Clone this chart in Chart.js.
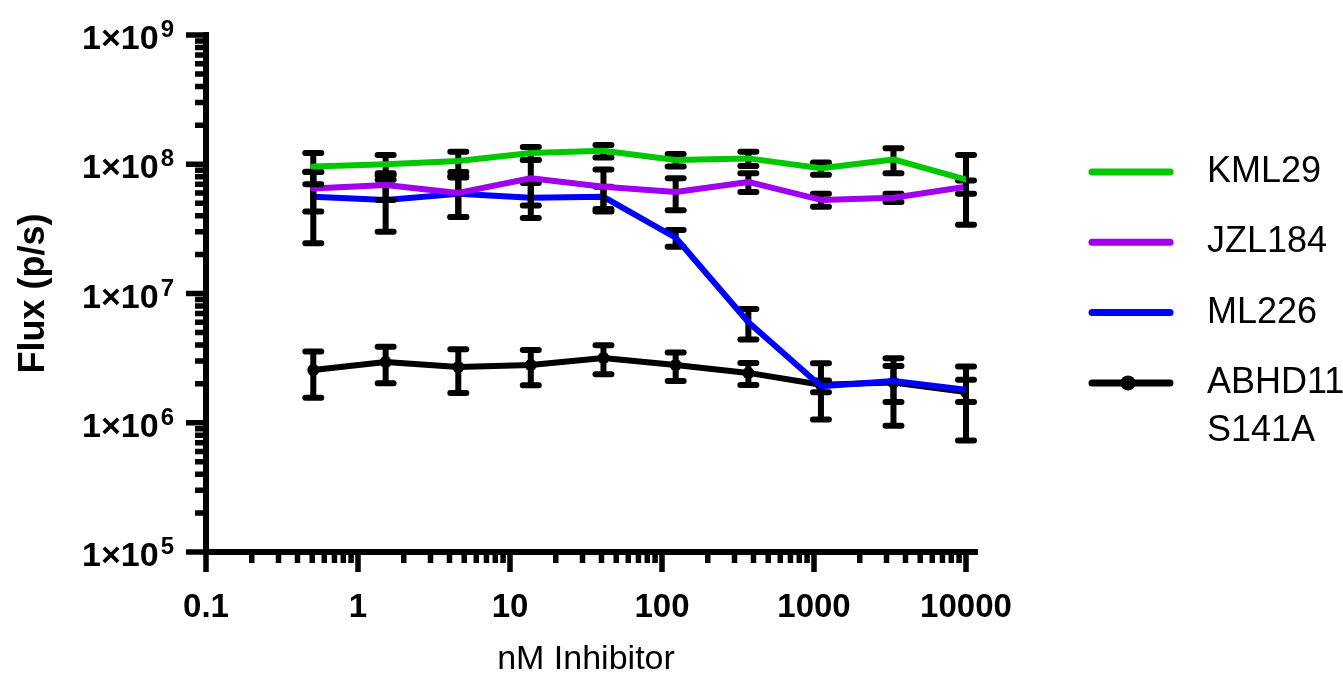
<!DOCTYPE html>
<html lang="en">
<head>
    <meta charset="UTF-8">
    <title>Flux vs nM Inhibitor</title>
    <style>
        html, body { margin: 0; padding: 0; background: #fff; }
        #chart-container { width: 1343px; height: 683px; }
    </style>
</head>
<body>
    <div id="chart-container">
        <canvas id="myChart" width="1343" height="683"></canvas>
    </div>

    <script src="https://cdn.jsdelivr.net/npm/chart.js@4"></script>
    <script>
        // Inhibitor concentration (nM), 3-fold dilution series
        var doses = [0.508, 1.52, 4.57, 13.7, 41.2, 123, 370, 1111, 3333, 10000];

        // Mean flux (p/s)
        var kml29  = [9.6e7, 1.0e8, 1.06e8, 1.22e8, 1.27e8, 1.08e8, 1.11e8, 9.3e7, 1.09e8, 7.6e7];
        var jzl184 = [6.5e7, 6.9e7, 6.0e7, 7.8e7, 6.7e7, 6.1e7, 7.3e7, 5.3e7, 5.5e7, 6.7e7];
        var ml226  = [5.6e7, 5.3e7, 5.9e7, 5.5e7, 5.6e7, 2.7e7, 6.0e6, 1.92e6, 2.1e6, 1.8e6];
        var abhd11 = [2.56e6, 2.95e6, 2.7e6, 2.8e6, 3.17e6, 2.8e6, 2.43e6, 1.97e6, 2.05e6, 1.73e6];

        // Standard deviations (p/s)
        var kml29Sd  = [2.6e7, 1.8e7, 1.9e7, 1.4e7, 1.4e7, 1.2e7, 1.4e7, 1.0e7, 2.4e7, 4.2e7];
        var jzl184Sd = [2.2e7, 1.6e7, 2.1e7, 3.0e7, 2.4e7, 1.7e7, 1.2e7, 6e6, 4e6, 8e6];
        var ml226Sd  = [3.15e7, 2.3e7, 2.0e7, 1.66e7, 1.1e7, 4e6, 1.6e6, 2e5, 6.5e5, 3.5e5];
        var abhd11Sd = [1.0e6, 0.93e6, 1.0e6, 0.85e6, 0.8e6, 0.7e6, 0.47e6, 0.91e6, 1.1e6, 1.0e6];

        // Axis tick labels
        var xTickValues = [0.1, 1, 10, 100, 1000, 10000];
        var yTickValues = [1e5, 1e6, 1e7, 1e8, 1e9];

        var seriesNames = ['KML29', 'JZL184', 'ML226', 'ABHD11 S141A'];
        var seriesSd = [kml29Sd, jzl184Sd, ml226Sd, abhd11Sd];

        var FONT = '"Liberation Sans", Arial, sans-serif';

        function points(ys) {
            return doses.map(function (x, i) { return { x: x, y: ys[i] }; });
        }

        // 2..9 within each decade, for the small tick marks
        function minorTicks(lo, hi) {
            var out = [];
            for (var d = lo; d < hi * 0.99; d *= 10) {
                for (var m = 2; m <= 9; m++) out.push(m * d);
            }
            return out;
        }

        // SD bars, drawn just under each dataset's own line
        var errorBars = {
            id: 'errorBars',
            beforeDatasetDraw: function (chart, args) {
                var ctx = chart.ctx, xs = chart.scales.x, ys = chart.scales.y;
                var ds = chart.data.datasets[args.index];
                var sd = seriesSd[args.index];
                ctx.save();
                ctx.strokeStyle = '#000';
                ctx.lineWidth = 6;
                ctx.lineCap = 'round';
                ctx.beginPath();
                ds.data.forEach(function (p, i) {
                    var px = xs.getPixelForValue(p.x);
                    var top = ys.getPixelForValue(p.y + sd[i]);
                    var bot = ys.getPixelForValue(p.y - sd[i]);
                    ctx.moveTo(px, top); ctx.lineTo(px, bot);
                    ctx.moveTo(px - 8, top); ctx.lineTo(px + 8, top);
                    ctx.moveTo(px - 8, bot); ctx.lineTo(px + 8, bot);
                });
                ctx.stroke();
                ctx.restore();
            }
        };

        // Tick marks (long majors, short minors) and the 1x10^n labels
        var axisDecor = {
            id: 'axisDecor',
            afterDraw: function (chart) {
                var ctx = chart.ctx, xs = chart.scales.x, ys = chart.scales.y;
                var a = chart.chartArea;
                ctx.save();
                ctx.strokeStyle = '#000';
                ctx.lineWidth = 5.5;
                ctx.beginPath();
                xTickValues.forEach(function (v) {
                    var px = xs.getPixelForValue(v);
                    ctx.moveTo(px, a.bottom); ctx.lineTo(px, a.bottom + 20);
                });
                minorTicks(0.1, 10000).forEach(function (v) {
                    var px = xs.getPixelForValue(v);
                    ctx.moveTo(px, a.bottom); ctx.lineTo(px, a.bottom + 11);
                });
                yTickValues.forEach(function (v) {
                    var py = ys.getPixelForValue(v);
                    ctx.moveTo(a.left, py); ctx.lineTo(a.left - 20, py);
                });
                minorTicks(1e5, 1e9).forEach(function (v) {
                    var py = ys.getPixelForValue(v);
                    ctx.moveTo(a.left, py); ctx.lineTo(a.left - 11, py);
                });
                ctx.stroke();
                ctx.lineWidth = 6;
                ctx.beginPath();
                ctx.moveTo(a.right, a.bottom); ctx.lineTo(a.right + 12, a.bottom);
                ctx.stroke();

                ctx.fillStyle = '#000';
                ctx.textBaseline = 'alphabetic';
                ctx.textAlign = 'right';
                yTickValues.forEach(function (v) {
                    var py = ys.getPixelForValue(v);
                    var exp = String(Math.round(Math.log10(v)));
                    ctx.font = 'bold 24px ' + FONT;
                    var ew = ctx.measureText(exp).width;
                    ctx.fillText(exp, a.left - 32, py + 2);
                    ctx.font = 'bold 34px ' + FONT;
                    ctx.fillText('1\u00d710', a.left - 32 - ew - 2, py + 14);
                });
                ctx.restore();
            }
        };

        // Legend at the right, with the last name on two lines
        var legendBox = {
            id: 'legendBox',
            afterDraw: function (chart) {
                var ctx = chart.ctx;
                ctx.save();
                chart.data.datasets.forEach(function (ds, i) {
                    var cy = 172 + i * 70.3;
                    ctx.strokeStyle = ds.borderColor;
                    ctx.lineWidth = 7;
                    ctx.lineCap = 'round';
                    ctx.beginPath();
                    ctx.moveTo(1092, cy); ctx.lineTo(1170, cy);
                    ctx.stroke();
                    if (ds.pointRadius > 0) {
                        ctx.fillStyle = ds.borderColor;
                        ctx.beginPath();
                        ctx.arc(1128, cy, 7.5, 0, Math.PI * 2);
                        ctx.fill();
                    }
                    ctx.fillStyle = '#000';
                    ctx.font = '36px ' + FONT;
                    ctx.textAlign = 'left';
                    ctx.textBaseline = 'middle';
                    ds.label.split(' ').forEach(function (t, k) {
                        ctx.fillText(t, 1207, cy + k * 48);
                    });
                });
                ctx.restore();
            }
        };

        function lineSet(label, ys, color, radius) {
            return {
                label: label,
                data: points(ys),
                borderColor: color,
                backgroundColor: color,
                borderWidth: 6,
                borderJoinStyle: 'round',
                borderCapStyle: 'round',
                pointRadius: radius,
                pointBorderWidth: 0,
                pointBackgroundColor: color,
                tension: 0,
                fill: false
            };
        }

        var ctx = document.getElementById('myChart').getContext('2d');
        var myChart = new Chart(ctx, {
            type: 'line',
            data: {
                datasets: [
                    lineSet(seriesNames[0], kml29, '#00c800', 0),
                    lineSet(seriesNames[1], jzl184, '#a000f0', 0),
                    lineSet(seriesNames[2], ml226, '#0000ff', 0),
                    lineSet(seriesNames[3], abhd11, '#000000', 6)
                ]
            },
            options: {
                responsive: false,
                animation: false,
                layout: { padding: { top: 35, right: 377, left: 0, bottom: 0 } },
                plugins: {
                    legend: { display: false },
                    tooltip: { enabled: false }
                },
                scales: {
                    x: {
                        type: 'logarithmic',
                        min: 0.1,
                        max: 10000,
                        afterBuildTicks: function (s) {
                            s.ticks = xTickValues.map(function (v) { return { value: v, major: true }; });
                        },
                        afterFit: function (s) { s.height = 131; },
                        grid: { display: false, drawTicks: false },
                        border: { display: true, color: '#000', width: 6 },
                        ticks: {
                            color: '#000',
                            font: { family: FONT, size: 33, weight: 'bold' },
                            padding: 36,
                            autoSkip: false,
                            maxRotation: 0,
                            callback: function (v) { return String(v); }
                        },
                        title: {
                            display: true,
                            text: 'nM Inhibitor',
                            color: '#000',
                            font: { family: FONT, size: 34, lineHeight: 1.12 }
                        }
                    },
                    y: {
                        type: 'logarithmic',
                        min: 1e5,
                        max: 1e9,
                        afterBuildTicks: function (s) {
                            s.ticks = yTickValues.map(function (v) { return { value: v, major: true }; });
                        },
                        afterFit: function (s) { s.width = 206; },
                        grid: { display: false, drawTicks: false },
                        border: { display: true, color: '#000', width: 6 },
                        ticks: { display: false },
                        title: {
                            display: true,
                            text: 'Flux (p/s)',
                            color: '#000',
                            font: { family: FONT, size: 36, weight: 'bold', lineHeight: 1.66 }
                        }
                    }
                }
            },
            plugins: [errorBars, axisDecor, legendBox]
        });
    </script>
</body>
</html>
